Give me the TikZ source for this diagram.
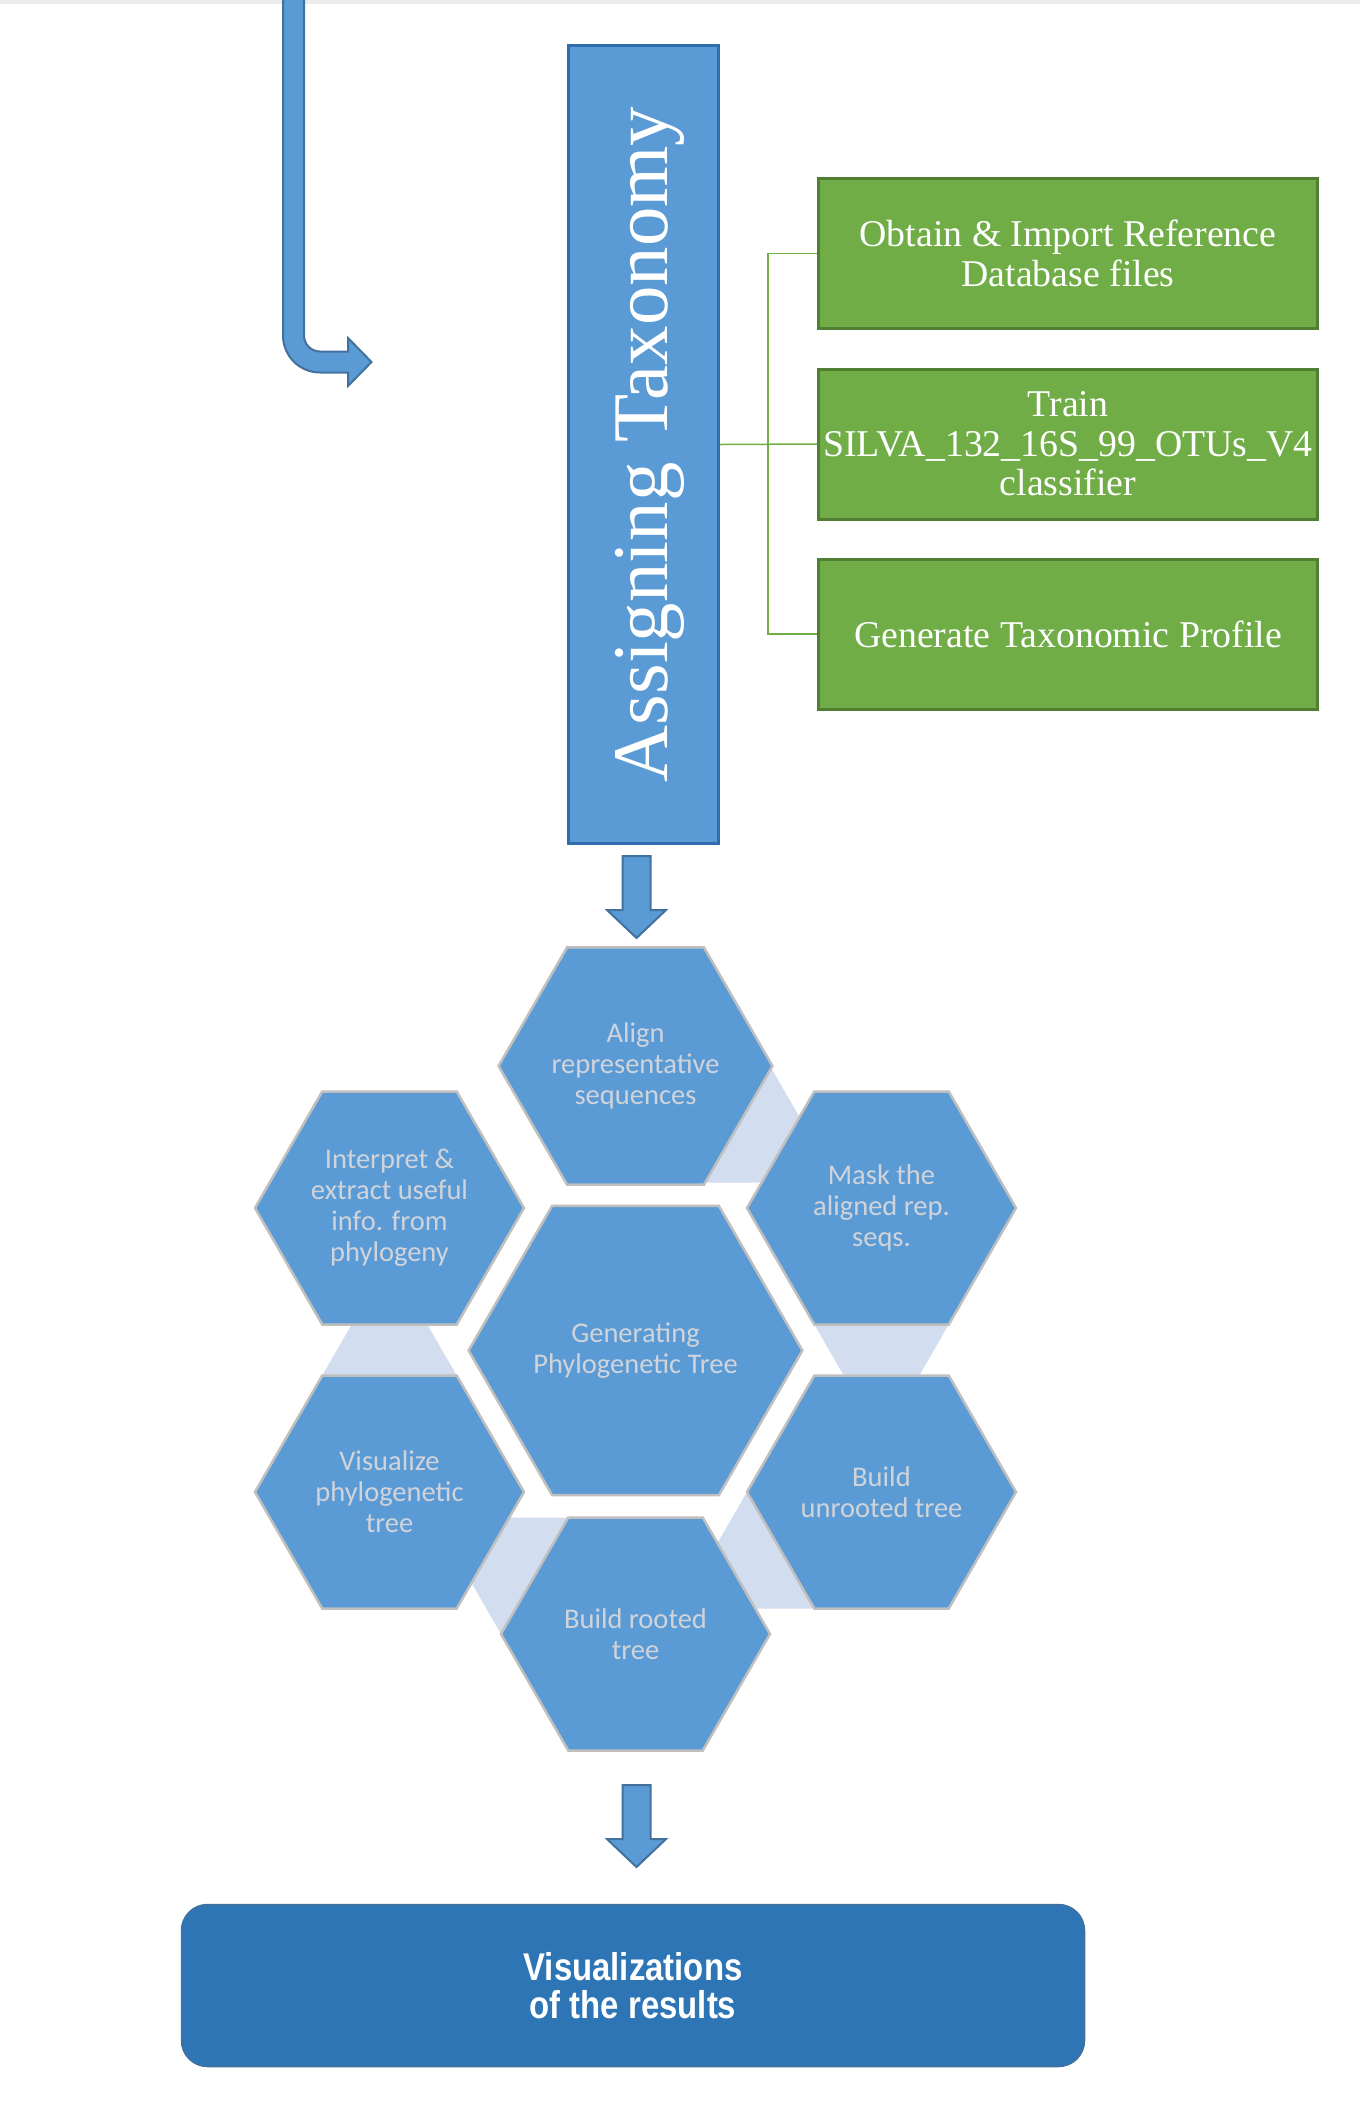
\documentclass[tikz,border=0pt]{standalone}
\usepackage{graphicx}
\usepackage{fontspec}
\setmainfont{Liberation Serif}
\newfontfamily\hexfont{Carlito}
\newfontfamily\vizfont[FakeStretch=0.85]{Liberation Sans}
\usetikzlibrary{shapes.geometric,backgrounds}

\definecolor{hexblue}{HTML}{5B9BD5}
\definecolor{hexline}{HTML}{BFBFBF}
\definecolor{hextext}{HTML}{D0D4DA}
\definecolor{linkfill}{HTML}{D2DDEF}
\definecolor{taxline}{HTML}{2F6EAE}
\definecolor{greenfill}{HTML}{70AD47}
\definecolor{greenline}{HTML}{507E32}
\definecolor{vizfill}{HTML}{2E75B6}
\definecolor{vizline}{HTML}{41719C}
\definecolor{arrowline}{HTML}{41719C}
\definecolor{topshade}{HTML}{EBEBEB}

\begin{document}
\begin{tikzpicture}[x=0.5pt,y=-0.5pt,
  taxbox/.style={draw=taxline, fill=hexblue, line width=1.5pt, minimum width=75pt, minimum height=399pt, inner sep=0pt, text=white, font=\fontsize{39.4}{44}\selectfont},
  greenbox/.style={draw=greenline, fill=greenfill, line width=1.5pt, minimum width=249.5pt, minimum height=75pt, inner sep=0pt, align=center, text=white, font=\fontsize{18.9}{19.75}\selectfont},
  greenwire/.style={draw=greenfill, line width=0.75pt},
  hexcell/.style={regular polygon, regular polygon sides=6, minimum size=134.5pt, inner sep=0pt, outer sep=0pt, draw=hexline, fill=hexblue, line width=1.25pt, align=center, text=hextext, font=\hexfont\fontsize{14.25}{15.5}\selectfont},
  hexcore/.style={hexcell, minimum size=164.7pt},
  linktri/.style={fill=linkfill},
  blockarrow/.style={draw=arrowline, fill=hexblue, line width=1pt, line join=miter},
  vizbox/.style={draw=vizline, fill=vizfill, line width=0.75pt, rounded corners=13pt, minimum width=451.5pt, minimum height=81pt, align=center, text=white, font=\vizfont\bfseries\fontsize{19.35}{19}\selectfont}]
\useasboundingbox (0,0) rectangle (1360,2116);
\fill[topshade] (0,0) rectangle (1360,4);

% incoming bent arrow
\draw[blockarrow] (283,-5) -- (283,335.5) arc[start angle=180, end angle=90, radius=37]
  -- (348,372.5) -- (348,386) -- (371.5,362) -- (348,338) -- (348,351.5) -- (320,351.5)
  arc[start angle=90, end angle=180, radius=16] -- (304,-5) -- cycle;

\node[taxbox] (tax) at (643,444.5) {\rotatebox{90}{\raisebox{-3.5pt}[\height][\depth]{Assigning Taxonomy}}};

\node[greenbox] (g1) at (1068,253.5) {Obtain \& Import Reference\\Database files};
\node[greenbox] (g2) at (1068,444) {Train\\SILVA\_132\_16S\_99\_OTUs\_V4\\classifier};
\node[greenbox] (g3) at (1068,634) {Generate Taxonomic Profile};

\coordinate (hub) at (768,444);
\draw[greenwire] (tax.east) -- (g2.west);
\draw[greenwire] (g1.west) -- (g1.west -| hub) -- (g3.west -| hub) -- (g3.west);

% hexagon radial
\node[hexcore] (core) at (635.5,1350.5) {Generating\\Phylogenetic Tree};
\node[hexcell] (align) at (635.5,1066) {Align\\representative\\sequences};
\node[hexcell] (mask) at (881.5,1208) {Mask the\\aligned rep.\\seqs.};
\node[hexcell] (unroot) at (881.5,1492) {Build\\unrooted tree};
\node[hexcell] (root) at (635.5,1634) {Build rooted\\tree};
\node[hexcell] (visual) at (389.5,1492) {Visualize\\phylogenetic\\tree};
\node[hexcell] (interp) at (389.5,1208) {Interpret \&\\extract useful\\info. from\\phylogeny};

\begin{scope}[on background layer]
\foreach \h/\a in {align/30, mask/90, unroot/150, root/210, visual/270}
  \fill[linktri] ([shift={({\a-30}:134.5)}]\h.center) -- ([shift={({\a+30}:134.5)}]\h.center)
    -- ([shift={(\a:233)}]\h.center) -- cycle;
\end{scope}

\coordinate (d1) at (636.5,856);
\coordinate (d2) at (636.5,1785);
\foreach \c in {d1,d2}
  \draw[blockarrow] (\c) ++(-14,0) -- ++(0,54) -- ++(-15.5,0) -- ++(29.5,28)
    -- ++(29.5,-28) -- ++(-15.5,0) -- ++(0,-54) -- cycle;

\node[vizbox] (viz) at (633,1985.5) {Visualizations\\of the results};
\end{tikzpicture}
\end{document}
